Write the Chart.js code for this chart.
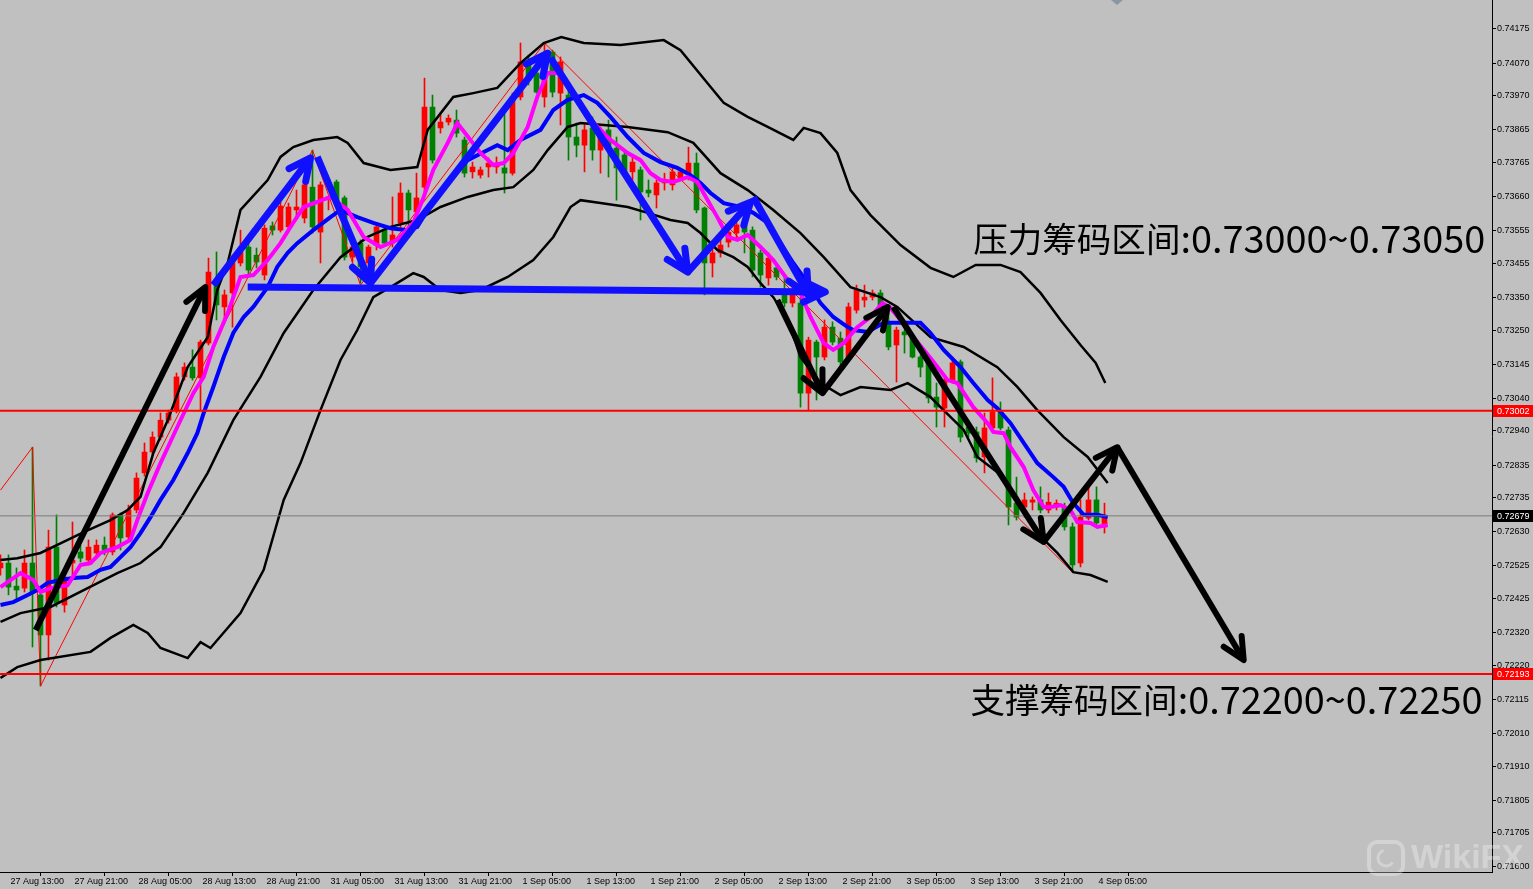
<!DOCTYPE html>
<html>
<head>
<meta charset="utf-8">
<script src="https://cdn.jsdelivr.net/npm/chart.js@4.4.0/dist/chart.umd.min.js"></script>
<style>
  html, body { margin: 0; padding: 0; background: #c0c0c0; }
  #wrap { width: 1533px; height: 889px; }
</style>
</head>
<body>
<div id="wrap"><canvas id="chart" width="1533" height="889"></canvas></div>
<script>
// H1 candles, bar 0 = 27 Aug 12:00
var opens = [
  0.72519,0.72534,0.72463,0.72457,0.72534,0.72436,0.72313,0.72583,0.72405,0.72534,
  0.72568,0.72543,0.72565,0.72589,0.72568,0.72682,0.72614,0.72697,0.72811,0.72875,
  0.72921,0.72973,0.73004,0.73106,0.73136,0.73103,0.73210,0.73388,0.73321,0.73364,
  0.73456,0.73505,0.73480,0.73419,0.73570,0.73557,0.73567,0.73619,0.73594,0.73689,
  0.73551,0.73653,0.73705,0.73656,0.73474,0.73517,0.73456,0.73511,0.73557,0.73517,
  0.73579,0.73671,0.73613,0.73689,0.73935,0.73871,0.73889,0.73895,0.73834,0.73736,
  0.73726,0.73751,0.73751,0.73748,0.73732,0.73966,0.74070,0.74040,0.73966,0.74104,
  0.73978,0.73972,0.73843,0.73818,0.73871,0.73803,0.73865,0.73809,0.73788,0.73736,
  0.73742,0.73680,0.73665,0.73702,0.73696,0.73717,0.73732,0.73763,0.73625,0.73456,
  0.73487,0.73520,0.73548,0.73582,0.73557,0.73487,0.73410,0.73441,0.73373,0.73333,
  0.73333,0.73056,0.73213,0.73167,0.73259,0.73225,0.73167,0.73311,0.73342,0.73351,
  0.73364,0.73272,0.73204,0.73244,0.73225,0.73167,0.73152,0.73044,0.73010,0.73096,
  0.73152,0.72952,0.72937,0.72860,0.72949,0.72998,0.72943,0.72718,0.72706,0.72721,
  0.72728,0.72697,0.72706,0.72706,0.72645,0.72534,0.72672,0.72728,0.72645
];
var highs = [
  0.72559,0.72559,0.72519,0.72574,0.72890,0.72451,0.72635,0.72682,0.72513,0.72660,
  0.72589,0.72605,0.72605,0.72614,0.72688,0.72688,0.72712,0.72811,0.72903,0.72937,
  0.72995,0.73004,0.73118,0.73149,0.73189,0.73219,0.73471,0.73490,0.73373,0.73480,
  0.73557,0.73517,0.73502,0.73573,0.73582,0.73649,0.73640,0.73680,0.73720,0.73803,
  0.73705,0.73662,0.73711,0.73662,0.73517,0.73527,0.73511,0.73573,0.73563,0.73659,
  0.73702,0.73680,0.73732,0.74024,0.73972,0.73917,0.73911,0.73926,0.73843,0.73766,
  0.73751,0.73779,0.73782,0.73917,0.73978,0.74132,0.74095,0.74089,0.74132,0.74110,
  0.74089,0.73987,0.73886,0.73886,0.73905,0.73874,0.73895,0.73843,0.73803,0.73782,
  0.73751,0.73711,0.73711,0.73732,0.73751,0.73742,0.73812,0.73794,0.73628,0.73505,
  0.73536,0.73579,0.73588,0.73597,0.73567,0.73496,0.73487,0.73450,0.73413,0.73388,
  0.73351,0.73228,0.73219,0.73281,0.73275,0.73244,0.73333,0.73388,0.73388,0.73373,
  0.73373,0.73311,0.73259,0.73250,0.73241,0.73173,0.73158,0.73087,0.73106,0.73167,
  0.73158,0.72973,0.72952,0.72995,0.73103,0.73029,0.72952,0.72798,0.72749,0.72737,
  0.72768,0.72749,0.72728,0.72718,0.72657,0.72728,0.72768,0.72768,0.72718
];
var lows = [
  0.72497,0.72436,0.72420,0.72445,0.72276,0.72156,0.72236,0.72399,0.72383,0.72482,
  0.72537,0.72528,0.72556,0.72559,0.72559,0.72574,0.72605,0.72688,0.72801,0.72866,
  0.72912,0.72964,0.72995,0.73096,0.73096,0.73004,0.73204,0.73281,0.73272,0.73259,
  0.73447,0.73413,0.73441,0.73404,0.73542,0.73551,0.73557,0.73597,0.73579,0.73548,
  0.73456,0.73619,0.73628,0.73465,0.73459,0.73394,0.73388,0.73496,0.73508,0.73505,
  0.73557,0.73557,0.73597,0.73671,0.73763,0.73855,0.73880,0.73843,0.73720,0.73717,
  0.73717,0.73720,0.73732,0.73671,0.73726,0.73957,0.74003,0.73978,0.73935,0.73966,
  0.73880,0.73772,0.73782,0.73736,0.73772,0.73732,0.73720,0.73649,0.73720,0.73711,
  0.73588,0.73659,0.73625,0.73680,0.73680,0.73711,0.73711,0.73610,0.73358,0.73413,
  0.73474,0.73505,0.73527,0.73487,0.73413,0.73382,0.73388,0.73404,0.73321,0.73321,
  0.73013,0.73004,0.73035,0.73158,0.73204,0.73136,0.73158,0.73302,0.73321,0.73342,
  0.73311,0.73189,0.73090,0.73179,0.73164,0.73106,0.73026,0.72952,0.72952,0.73087,
  0.72906,0.72921,0.72844,0.72811,0.72943,0.72943,0.72651,0.72666,0.72675,0.72697,
  0.72688,0.72688,0.72697,0.72635,0.72506,0.72522,0.72666,0.72651,0.72626
];
var closes = [
  0.72534,0.72460,0.72451,0.72534,0.72442,0.72313,0.72583,0.72411,0.72491,0.72543,
  0.72549,0.72583,0.72589,0.72574,0.72682,0.72611,0.72697,0.72795,0.72875,0.72921,
  0.72973,0.72995,0.73106,0.73136,0.73103,0.73213,0.73428,0.73327,0.73358,0.73456,
  0.73490,0.73434,0.73459,0.73563,0.73557,0.73631,0.73628,0.73628,0.73696,0.73567,
  0.73696,0.73659,0.73640,0.73474,0.73505,0.73444,0.73505,0.73567,0.73517,0.73542,
  0.73671,0.73619,0.73656,0.73935,0.73772,0.73889,0.73901,0.73855,0.73732,0.73751,
  0.73742,0.73763,0.73763,0.73732,0.73966,0.74074,0.74018,0.73981,0.74070,0.73981,
  0.74074,0.73843,0.73818,0.73865,0.73803,0.73865,0.73812,0.73748,0.73736,0.73766,
  0.73674,0.73671,0.73702,0.73711,0.73736,0.73736,0.73763,0.73619,0.73456,0.73487,
  0.73511,0.73551,0.73573,0.73551,0.73434,0.73419,0.73471,0.73413,0.73333,0.73373,
  0.73056,0.73219,0.73167,0.73259,0.73213,0.73152,0.73321,0.73373,0.73351,0.73364,
  0.73321,0.73198,0.73250,0.73235,0.73167,0.73136,0.73041,0.73013,0.73096,0.73149,
  0.72921,0.72933,0.72857,0.72949,0.72998,0.72949,0.72706,0.72675,0.72728,0.72728,
  0.72697,0.72721,0.72718,0.72645,0.72528,0.72675,0.72728,0.72657,0.72679
];

var timeLabels = ['27 Aug 13:00','27 Aug 21:00','28 Aug 05:00','28 Aug 13:00','28 Aug 21:00',
  '31 Aug 05:00','31 Aug 13:00','31 Aug 21:00','1 Sep 05:00','1 Sep 13:00','1 Sep 21:00',
  '2 Sep 05:00','2 Sep 13:00','2 Sep 21:00','3 Sep 05:00','3 Sep 13:00','3 Sep 21:00','4 Sep 05:00'];
var priceTicks = ['0.74175','0.74070','0.73970','0.73865','0.73765','0.73660','0.73555','0.73455',
  '0.73350','0.73250','0.73145','0.73040','0.72940','0.72835','0.72735','0.72630','0.72525',
  '0.72425','0.72320','0.72220','0.72115','0.72010','0.71910','0.71805','0.71705','0.71600'];

var resistLevel = 0.73002;
var supportLevel = 0.72193;
var bidPrice = 0.72679;

// indicator lines: [bar, price]
var bbUpper = [[0,0.72543],[2.1,0.72549],[5,0.72565],[8.4,0.72605],[10.4,0.72629],[13.75,0.72666],
  [15.9,0.72697],[17.5,0.72737],[19.1,0.72872],[20.9,0.72973],[23.4,0.73136],[25.9,0.73228],
  [27.1,0.73373],[28.4,0.73456],[30,0.73619],[33.4,0.73711],[35,0.73782],[36.6,0.73812],
  [39.1,0.73834],[42.1,0.73843],[43.4,0.73825],[45.4,0.73763],[48.75,0.73742],[52.1,0.73751],
  [53.4,0.73865],[56.6,0.73966],[59.1,0.73978],[62.1,0.73994],[65,0.74070],[67.9,0.74132],
  [70.1,0.74150],[72.9,0.74132],[77.5,0.74126],[82.9,0.74141],[85,0.74110],[89.1,0.73987],
  [90.4,0.73948],[93.4,0.73905],[95.9,0.73874],[99.1,0.73834],[100.4,0.73871],[102.5,0.73855],
  [104.6,0.73794],[106.25,0.73680],[108.75,0.73603],[112.5,0.73511],[116.25,0.73441],
  [119.1,0.73413],[121.9,0.73450],[125,0.73450],[127.5,0.73428],[130,0.73364],[132.5,0.73281],
  [135,0.73204],[136.9,0.73149],[138.1,0.73087]];
var bbMiddle = [[0,0.72353],[2.5,0.72380],[6.25,0.72399],[10.4,0.72451],[14.6,0.72503],[17.5,0.72534],
  [20,0.72583],[22.9,0.72688],[25.9,0.72811],[29.1,0.72973],[32.5,0.73106],[35.4,0.73241],
  [39.1,0.73373],[42.5,0.73474],[45.9,0.73536],[48.75,0.73567],[52.1,0.73588],[55,0.73628],
  [58.4,0.73659],[61.6,0.73680],[64.1,0.73689],[66.6,0.73742],[68.4,0.73803],[70.9,0.73874],
  [72.5,0.73886],[75.4,0.73880],[78.4,0.73874],[83.4,0.73858],[86.6,0.73825],[90,0.73732],
  [93.4,0.73680],[96.6,0.73619],[100,0.73548],[102.9,0.73474],[106.25,0.73382],[110,0.73351],
  [112.1,0.73321],[116.25,0.73228],[120.4,0.73198],[124.6,0.73136],[127.1,0.73075],
  [129.6,0.73004],[132.9,0.72921],[135.9,0.72860],[138.4,0.72780]];
var bbLower = [[0,0.72181],[2.1,0.72214],[5,0.72236],[11.25,0.72261],[13.75,0.72304],[16.6,0.72344],
  [18.4,0.72319],[20,0.72273],[23.4,0.72242],[25,0.72291],[26.25,0.72273],[30,0.72380],
  [32.9,0.72513],[35.4,0.72728],[37.5,0.72841],[40,0.73004],[42.5,0.73158],[44.6,0.73250],
  [46.6,0.73351],[48.75,0.73382],[51.6,0.73425],[52.9,0.73413],[55,0.73373],[57.5,0.73364],
  [60,0.73373],[63.4,0.73413],[66.6,0.73465],[69.1,0.73536],[71.25,0.73628],[72.5,0.73649],
  [75,0.73640],[78.4,0.73628],[80.9,0.73610],[83.75,0.73588],[85.9,0.73579],[87.5,0.73548],
  [89.6,0.73496],[91.6,0.73474],[93.4,0.73444],[95,0.73394],[96.6,0.73351],[98.4,0.73281],
  [100,0.73167],[102.5,0.73087],[105,0.73050],[107.5,0.73075],[111.25,0.73066],[113.4,0.73087],
  [116.25,0.73044],[117.5,0.73013],[120.4,0.72943],[122.1,0.72860],[123.75,0.72829],
  [125.4,0.72798],[127.1,0.72718],[129.6,0.72626],[132.1,0.72565],[134.1,0.72506],
  [136.25,0.72497],[138.4,0.72476]];
var maFast = [[0,0.72460],[2.5,0.72503],[4.1,0.72482],[5,0.72445],[6.25,0.72457],[8.4,0.72466],
  [10,0.72528],[11.25,0.72534],[12.5,0.72565],[14.6,0.72583],[16.25,0.72605],[17.1,0.72666],
  [18.4,0.72749],[20,0.72841],[22.1,0.72952],[24.1,0.73056],[25.4,0.73106],[26.6,0.73198],
  [28.4,0.73302],[30,0.73413],[31.6,0.73419],[33.4,0.73465],[35,0.73517],[36.25,0.73567],
  [37.9,0.73628],[41.25,0.73659],[43.4,0.73619],[45.4,0.73536],[47.5,0.73505],[49.6,0.73527],
  [51.6,0.73579],[52.9,0.73659],[54.1,0.73742],[55.9,0.73825],[57.1,0.73886],[58.75,0.73834],
  [60,0.73794],[61.6,0.73757],[62.9,0.73763],[64.1,0.73794],[65.9,0.73874],[67.1,0.73966],
  [68.4,0.74040],[69.6,0.74040],[70.9,0.74009],[72.5,0.73941],[74.4,0.73880],[76.25,0.73834],
  [78.4,0.73794],[80,0.73772],[81.25,0.73732],[82.5,0.73711],[84.1,0.73705],[85.9,0.73720],
  [87.1,0.73705],[88.4,0.73649],[89.6,0.73597],[90.9,0.73536],[92.1,0.73527],[93.4,0.73542],
  [95,0.73505],[96.6,0.73465],[98.4,0.73404],[100,0.73364],[101.25,0.73290],[102.9,0.73210],
  [104.1,0.73189],[105.4,0.73210],[107.1,0.73259],[108.75,0.73290],[110.25,0.73333],
  [111.25,0.73318],[112.5,0.73281],[114.4,0.73219],[116.25,0.73164],[118.4,0.73096],
  [119.6,0.73087],[121.6,0.73013],[123.4,0.72964],[124.1,0.72937],[125.4,0.72933],
  [126.25,0.72890],[127.9,0.72829],[129.1,0.72758],[130.4,0.72706],[131.25,0.72706],
  [132.5,0.72712],[133.75,0.72697],[134.6,0.72660],[136.25,0.72657],[137.1,0.72645],[138.4,0.72651]];
var maSlow = [[0,0.72405],[1.6,0.72414],[3.4,0.72436],[4.6,0.72451],[5.9,0.72473],[7.5,0.72482],
  [9.1,0.72488],[10.9,0.72491],[12.5,0.72513],[13.75,0.72522],[15,0.72552],[16.25,0.72583],
  [17.5,0.72626],[18.75,0.72675],[20,0.72728],[21.6,0.72789],[23.4,0.72872],[24.6,0.72933],
  [25.4,0.72995],[26.6,0.73075],[27.9,0.73167],[29.1,0.73241],[30.4,0.73290],[31.6,0.73321],
  [33.4,0.73382],[34.6,0.73444],[35.9,0.73487],[37.1,0.73517],[39.1,0.73557],[41.25,0.73597],
  [42.5,0.73619],[44.6,0.73597],[46.6,0.73579],[48.75,0.73563],[50.9,0.73557],[52.1,0.73567],
  [53.4,0.73619],[55.4,0.73689],[58.4,0.73772],[60.9,0.73803],[62.1,0.73818],[63.4,0.73803],
  [65,0.73834],[67.5,0.73865],[69.1,0.73926],[70.9,0.73957],[72.9,0.73972],[74.6,0.73948],
  [76.25,0.73905],[78.4,0.73843],[80.4,0.73794],[82.5,0.73766],[84.6,0.73748],[86.25,0.73726],
  [87.5,0.73702],[88.75,0.73671],[90.4,0.73640],[92.5,0.73628],[94.1,0.73610],[95.9,0.73579],
  [97.5,0.73517],[99.1,0.73456],[100.9,0.73394],[102.5,0.73333],[104.1,0.73290],[105.9,0.73259],
  [106.6,0.73250],[108.4,0.73244],[110.4,0.73272],[112.1,0.73272],[115,0.73272],[116.25,0.73241],
  [117.9,0.73189],[120,0.73136],[121.6,0.73087],[123.4,0.73035],[124.6,0.73010],[126.25,0.72964],
  [127.9,0.72903],[129.6,0.72841],[131.6,0.72798],[132.9,0.72768],[134.1,0.72718],[135.4,0.72682],
  [137.1,0.72682],[138.4,0.72675]];
var zigzag = [[0,0.72758],[4,0.72890],[5,0.72156],[39,0.73803],[45,0.73388],[68,0.74132],[134,0.72506]];

// hand drawn arrows: [bar, price]
var blueArrows = [
  [[26.6,0.73388],[38.75,0.73779]],
  [[39.6,0.73782],[46.25,0.73394]],
  [[46.25,0.73394],[68.4,0.74101]],
  [[68.75,0.74086],[85.9,0.73428]],
  [[85.9,0.73428],[93.75,0.73643]],
  [[94.1,0.73659],[101,0.73358]],
  [[30.9,0.73382],[103.1,0.73367]]
];
var blackArrows = [
  [[4.4,0.72328],[25.6,0.73382]],
  [[97.1,0.73342],[102.75,0.73056]],
  [[102.75,0.73056],[110.9,0.73321]],
  [[111.6,0.73321],[130.4,0.72599]],
  [[130.4,0.72599],[139.6,0.72890]],
  [[139.6,0.72890],[155.4,0.72236]]
];
// text notes: Chinese part and number part, each with its span in bars
var notes = [
  { head: '压力筹码区间', tail: ':0.73000~0.73050', bar: 121.6, price: 0.73530, headSpan: 25.9, tailSpan: 38.1 },
  { head: '支撑筹码区间', tail: ':0.72200~0.72250', bar: 121.25, price: 0.72113, headSpan: 25.9, tailSpan: 38.1 }
];

var xMin = -0.0625, xMax = xMin + 1492 / 8;
var yMin = 0.715846, yMax = 0.742641;

function pts(arr) {
  return arr.map(function (p) { return { x: p[0], y: p[1] } })
}

var bodies = [], wicks = [], candleColors = [];
for (var i = 0; i < closes.length; i++) {
  bodies.push({ x: i, y: [opens[i], closes[i]] });
  wicks.push({ x: i, y: [lows[i], highs[i]] });
  candleColors.push(closes[i] >= opens[i] ? '#ff0000' : '#008000');
}

var datasets = [];
blueArrows.forEach(function (a) {
  datasets.push({ type: 'line', data: pts(a), borderColor: '#1010ff', borderWidth: 7, arrow: true, order: 0 });
});
blackArrows.forEach(function (a) {
  datasets.push({ type: 'line', data: pts(a), borderColor: '#000000', borderWidth: 6, arrow: true, order: 0 });
});
datasets.push({ type: 'line', data: [{ x: xMin, y: resistLevel }, { x: xMax, y: resistLevel }], borderColor: '#ff0000', borderWidth: 2, order: 1 });
datasets.push({ type: 'line', data: [{ x: xMin, y: supportLevel }, { x: xMax, y: supportLevel }], borderColor: '#ff0000', borderWidth: 2, order: 1 });
datasets.push({ type: 'line', data: [{ x: xMin, y: bidPrice }, { x: xMax, y: bidPrice }], borderColor: '#7a7a7a', borderWidth: 1, order: 1 });
datasets.push({ type: 'line', data: pts(maFast), borderColor: '#ff00ff', borderWidth: 4, order: 2 });
datasets.push({ type: 'line', data: pts(maSlow), borderColor: '#0000ff', borderWidth: 4, order: 3 });
datasets.push({ type: 'line', data: pts(bbUpper), borderColor: '#000000', borderWidth: 2.5, order: 4 });
datasets.push({ type: 'line', data: pts(bbMiddle), borderColor: '#000000', borderWidth: 2.5, order: 4 });
datasets.push({ type: 'line', data: pts(bbLower), borderColor: '#000000', borderWidth: 2.5, order: 4 });
datasets.push({ type: 'line', data: pts(zigzag), borderColor: '#ff0000', borderWidth: 1, order: 5 });
datasets.push({ type: 'bar', data: bodies, backgroundColor: candleColors, barThickness: 5, minBarLength: 1, grouped: false, order: 6 });
datasets.push({ type: 'bar', data: wicks, backgroundColor: candleColors, barThickness: 1, grouped: false, order: 7 });

function fitText(ctx, text, family, width) {
  ctx.font = '40px ' + family;
  var size = 40 * width / ctx.measureText(text).width;
  ctx.font = size.toFixed(2) + 'px ' + family;
}

var overlay = {
  id: 'overlay',
  afterDatasetsDraw: function (chart) {
    var ctx = chart.ctx, xs = chart.scales.x, ys = chart.scales.y;
    ctx.save();
    chart.data.datasets.forEach(function (ds) {
      if (!ds.arrow) return;
      var n = ds.data.length;
      var a = ds.data[n - 2], b = ds.data[n - 1];
      var x1 = xs.getPixelForValue(a.x), y1 = ys.getPixelForValue(a.y);
      var x2 = xs.getPixelForValue(b.x), y2 = ys.getPixelForValue(b.y);
      var ang = Math.atan2(y2 - y1, x2 - x1);
      var len = 24;
      ctx.strokeStyle = ds.borderColor;
      ctx.lineWidth = ds.borderWidth;
      ctx.lineCap = 'round';
      ctx.lineJoin = 'round';
      ctx.beginPath();
      ctx.moveTo(x2 - len * Math.cos(ang - 0.45), y2 - len * Math.sin(ang - 0.45));
      ctx.lineTo(x2, y2);
      ctx.lineTo(x2 - len * Math.cos(ang + 0.45), y2 - len * Math.sin(ang + 0.45));
      ctx.stroke();
    });
    ctx.restore();
  },
  afterDraw: function (chart) {
    var ctx = chart.ctx, xs = chart.scales.x, ys = chart.scales.y;
    var area = chart.chartArea;
    ctx.save();
    // notes
    ctx.fillStyle = '#000000';
    ctx.textBaseline = 'middle';
    ctx.textAlign = 'left';
    notes.forEach(function (n) {
      var x0 = xs.getPixelForValue(n.bar);
      var x1 = xs.getPixelForValue(n.bar + n.headSpan);
      var x2 = xs.getPixelForValue(n.bar + n.headSpan + n.tailSpan);
      var y = ys.getPixelForValue(n.price);
      fitText(ctx, n.head, '"Noto Sans CJK SC"', x1 - x0);
      ctx.fillText(n.head, x0, y);
      fitText(ctx, n.tail, '"Noto Sans CJK SC"', x2 - x1);
      ctx.fillText(n.tail, x1, y);
    });
    // price tags on the axis
    var tags = [[resistLevel, '#ff0000'], [supportLevel, '#ff0000'], [bidPrice, '#000000']];
    ctx.font = '9px "Liberation Sans"';
    tags.forEach(function (t) {
      var y = Math.round(ys.getPixelForValue(t[0]));
      ctx.fillStyle = t[1];
      ctx.fillRect(area.right + 1, y - 6, 40, 12);
      ctx.fillStyle = '#ffffff';
      ctx.fillText(t[0].toFixed(5), area.right + 5, y + 0.5);
    });
    // small marker on top
    ctx.fillStyle = '#8a96a4';
    ctx.beginPath();
    ctx.moveTo(1111, 0); ctx.lineTo(1117, 5); ctx.lineTo(1123, 0);
    ctx.closePath(); ctx.fill();
    // watermark
    ctx.globalAlpha = 0.3;
    ctx.strokeStyle = '#ffffff';
    ctx.fillStyle = '#ffffff';
    ctx.lineWidth = 4;
    ctx.beginPath();
    ctx.roundRect(1369, 842, 34, 32, 8);
    ctx.stroke();
    ctx.lineWidth = 3;
    ctx.beginPath();
    ctx.arc(1386, 858, 8, 0.6, 4.4);
    ctx.stroke();
    ctx.font = 'bold 34px "Liberation Sans"';
    ctx.textBaseline = 'alphabetic';
    ctx.fillText('WikiFX', 1411, 868);
    ctx.restore();
  }
};

new Chart(document.getElementById('chart'), {
  type: 'bar',
  data: { datasets: datasets },
  options: {
    responsive: false,
    animation: false,
    events: [],
    layout: { padding: 0 },
    elements: { point: { radius: 0 }, line: { tension: 0 } },
    plugins: { legend: { display: false }, tooltip: { enabled: false } },
    scales: {
      x: {
        type: 'linear',
        min: xMin,
        max: xMax,
        offset: false,
        afterBuildTicks: function (scale) {
          scale.ticks = timeLabels.map(function (t, i) { return { value: 1 + 8 * i } });
        },
        afterFit: function (scale) {
          scale.height = 17;
          scale.paddingLeft = 0; scale.paddingRight = 0;
        },
        grid: { drawOnChartArea: false, drawTicks: true, tickLength: 4, color: '#000000' },
        border: { display: true, color: '#000000', width: 1 },
        ticks: {
          autoSkip: false, maxRotation: 0, align: 'start', labelOffset: 2, padding: 0,
          color: '#000000', font: { family: 'Liberation Sans', size: 9 },
          callback: function (v) { return timeLabels[Math.round((v - 1) / 8)] }
        }
      },
      y: {
        type: 'linear',
        position: 'right',
        min: yMin,
        max: yMax,
        afterBuildTicks: function (scale) {
          scale.ticks = priceTicks.map(function (t) { return { value: parseFloat(t) } });
        },
        afterFit: function (scale) {
          scale.width = 41;
          scale.paddingTop = 0; scale.paddingBottom = 0;
        },
        grid: { drawOnChartArea: false, drawTicks: true, tickLength: 4, color: '#000000' },
        border: { display: true, color: '#000000', width: 1 },
        ticks: {
          padding: 1, color: '#000000', font: { family: 'Liberation Sans', size: 9 },
          callback: function (v, i) { return priceTicks[i] }
        }
      }
    }
  },
  plugins: [overlay]
});
</script>
</body>
</html>
